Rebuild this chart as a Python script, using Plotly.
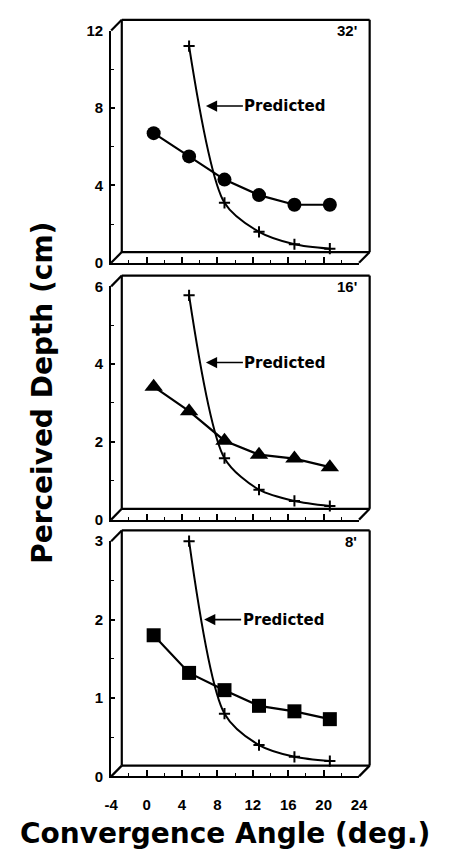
import plotly.graph_objects as go

# ---------------- data ----------------
angle_x = [0.8, 4.8, 8.8, 12.7, 16.7, 20.7]
pred_x = [4.8, 8.8, 12.7, 16.7, 20.7]

depth_32 = [6.7, 5.5, 4.3, 3.5, 3.0, 3.0]
pred_32 = [11.2, 3.1, 1.6, 0.96, 0.73]

depth_16 = [3.42, 2.79, 2.03, 1.67, 1.57, 1.35]
pred_16 = [5.77, 1.58, 0.77, 0.48, 0.35]

depth_8 = [1.80, 1.32, 1.10, 0.90, 0.83, 0.73]
pred_8 = [3.0, 0.80, 0.40, 0.25, 0.195]

panel_labels = ["32'", "16'", "8'"]
y_ranges = [[0, 12], [0, 6], [0, 3]]
y_tickvals = [[0, 4, 8, 12], [0, 2, 4, 6], [0, 1, 2, 3]]
y_minor = [2, 1, 0.5]
x_range = [-4, 24]
x_tickvals = [-4, 0, 4, 8, 12, 16, 20, 24]
x_ticktext = ["-4", "0", "4", "8", "12", "16", "20", "24"]
marker_symbols = ["circle", "triangle-up", "square"]
arrow_tips = [(6.7, 8.1), (6.7, 4.04), (6.5, 2.0)]

depths = [depth_32, depth_16, depth_8]
preds = [pred_32, pred_16, pred_8]

# ---------------- layout geometry (pixels) ----------------
W, H = 451, 853
FX0, FX1 = 108, 365                       # front face left/right
PANELS = [(22, 259), (283, 521), (543, 783)]  # front face top/bottom
OFF = 11                                  # pseudo-3D depth offset

TICK_FONT = dict(family="Liberation Sans", size=15, color="black", weight="bold")

fig = go.Figure()
layout = dict(
    width=W, height=H,
    margin=dict(l=0, r=0, t=0, b=0),
    paper_bgcolor="white", plot_bgcolor="white",
    showlegend=False,
)
shapes = []
annotations = []

for i in range(3):
    n = "" if i == 0 else str(i + 1)
    xa, ya = "x" + n, "y" + n
    top, bot = PANELS[i]
    fig.add_trace(go.Scatter(
        x=pred_x, y=preds[i], xaxis=xa, yaxis=ya, mode="lines+markers",
        line=dict(color="black", width=2, shape="spline", smoothing=0.8),
        marker=dict(symbol="cross-thin", size=8, line=dict(color="black", width=2)),
        cliponaxis=False,
    ))
    fig.add_trace(go.Scatter(
        x=angle_x, y=depths[i], xaxis=xa, yaxis=ya, mode="lines+markers",
        line=dict(color="black", width=2.2),
        marker=dict(symbol=marker_symbols[i], size=14 if i != 1 else 16, color="black"),
        cliponaxis=False,
    ))

    xdom = [FX0 / W, FX1 / W]
    ydom = [1 - bot / H, 1 - top / H]
    layout["xaxis" + n] = dict(
        domain=xdom, anchor=ya, range=x_range, tickvals=x_tickvals, ticktext=x_ticktext,
        showticklabels=(i == 2), ticks="inside", ticklen=6, tickwidth=1.5,
        tickcolor="black",
        minor=dict(dtick=2, ticks="inside", ticklen=3, tickcolor="black", tickwidth=1.2),
        showline=True, linecolor="black", linewidth=2.2, showgrid=False,
        zeroline=False, tickfont=dict(TICK_FONT, size=15),
        ticklabelstandoff=14,
    )
    layout["yaxis" + n] = dict(
        domain=ydom, anchor=xa, range=y_ranges[i], tickvals=y_tickvals[i],
        ticks="inside", ticklen=4, tickwidth=1.5, tickcolor="black",
        minor=dict(dtick=y_minor[i], ticks="inside", ticklen=3, tickcolor="black", tickwidth=1.2),
        showline=True, linecolor="black", linewidth=2.2, showgrid=False,
        zeroline=False, tickfont=TICK_FONT, ticklabelstandoff=3,
    )

    # pseudo-3D frame (domain coordinates)
    ox = OFF / (FX1 - FX0)
    oy = OFF / (bot - top)
    xr, yr = xa + " domain", ya + " domain"
    segs = [
        (ox, oy, ox, 1 + oy),          # back wall left
        (ox, oy, 1 + ox, oy),          # back wall bottom
        (ox, 1 + oy, 1 + ox, 1 + oy),  # back wall top
        (1 + ox, oy, 1 + ox, 1 + oy),  # back wall right
        (0, 1, ox, 1 + oy),            # top-left diagonal
        (0, 0, ox, oy),                # bottom-left diagonal
        (1, 0, 1 + ox, oy),            # bottom-right diagonal
    ]
    for (x0, y0, x1, y1) in segs:
        shapes.append(dict(type="line", xref=xr, yref=yr, x0=x0, y0=y0, x1=x1, y1=y1,
                           line=dict(color="black", width=2.2), layer="below"))

    annotations.append(dict(
        xref=xr, yref=yr, x=1.0, y=1.0, xanchor="right", yanchor="middle",
        text=panel_labels[i], showarrow=False,
        font=dict(family="Liberation Sans", size=15, color="black", weight="bold"),
    ))
    tx, ty = arrow_tips[i]
    annotations.append(dict(
        xref=xa, yref=ya, x=tx, y=ty, text="Predicted", showarrow=True,
        axref="pixel", ayref="pixel", ax=79, ay=0,
        arrowhead=2, arrowsize=1.4, arrowwidth=1.6, arrowcolor="black", standoff=0,
        font=dict(family="DejaVu Sans", size=15, color="black", weight="bold"),
    ))

annotations.append(dict(
    xref="paper", yref="paper", x=226 / W, y=1 - 841 / H,
    text="Convergence Angle (deg.)", showarrow=False,
    xanchor="center", yanchor="middle",
    font=dict(family="DejaVu Sans", size=28, color="black", weight="bold"),
))
annotations.append(dict(
    xref="paper", yref="paper", x=37 / W, y=1 - 392 / H,
    text="Perceived Depth (cm)", showarrow=False, textangle=-90,
    xanchor="center", yanchor="middle",
    font=dict(family="DejaVu Sans", size=28, color="black", weight="bold"),
))

layout["shapes"] = shapes
layout["annotations"] = annotations
fig.update_layout(**layout)
fig.write_html("out.html")
